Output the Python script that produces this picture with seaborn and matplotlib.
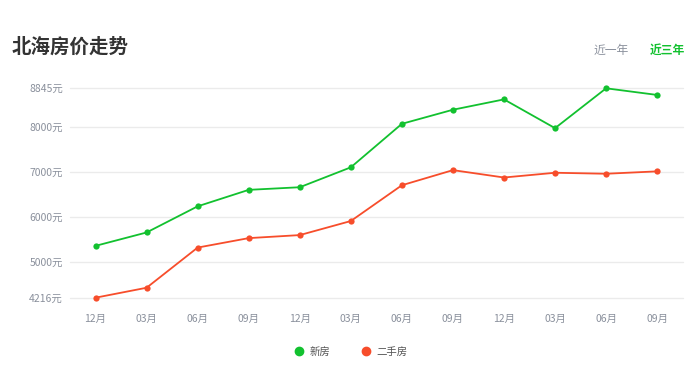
import matplotlib
matplotlib.use("Agg")
import matplotlib.pyplot as plt
from matplotlib.lines import Line2D
import seaborn as sns
import pandas as pd

# dados
meses = ["12月", "03月", "06月", "09月", "12月", "03月", "06月", "09月", "12月", "03月", "06月", "09月"]
novos = [5362, 5658, 6236, 6600, 6658, 7098, 8060, 8371, 8600, 7964, 8845, 8698]
usados = [4216, 4436, 5324, 5533, 5600, 5911, 6702, 7036, 6873, 6978, 6956, 7009]
y_ticks = [4216, 5000, 6000, 7000, 8000, 8845]

verde = "#12c12f"
vermelho = "#f74d2b"
cinza = "#8a909c"

sns.set_style("white")
plt.rcParams["font.family"] = ["Noto Sans CJK SC", "DejaVu Sans"]

tabela = pd.DataFrame({
    "pos": list(range(len(meses))) * 2,
    "preco": novos + usados,
    "tipo": ["新房"] * len(meses) + ["二手房"] * len(meses),
})

fig = plt.figure(figsize=(7, 3.73), dpi=100)
ax = fig.add_axes([70 / 700, 1 - 297.7 / 373, 612.7 / 700, (297.7 - 88.3) / 373])

sns.lineplot(data=tabela, x="pos", y="preco", hue="tipo", palette={"新房": verde, "二手房": vermelho},
             marker="o", markersize=4.5, markeredgewidth=0, linewidth=1.3, ax=ax, legend=False, clip_on=False)

ax.set_xlim(-0.5, len(meses) - 0.5)
ax.set_ylim(min(y_ticks), max(y_ticks))
ax.set_yticks(y_ticks)
ax.set_yticklabels([f"{v}元" for v in y_ticks])
ax.set_xticks(range(len(meses)))
ax.set_xticklabels(meses)
ax.tick_params(axis="both", length=0, labelsize=7.5, labelcolor=cinza)
ax.tick_params(axis="y", pad=5)
ax.tick_params(axis="x", pad=12)
ax.grid(axis="y", color="#ebebeb", linewidth=1)
for linha in ax.get_ygridlines():
    linha.set_clip_on(False)
ax.set_axisbelow(True)
for s in ax.spines.values():
    s.set_visible(False)
ax.set_xlabel("")
ax.set_ylabel("")

# titulo e botoes
fig.text(12 / 700, 1 - 47 / 373, "北海房价走势", fontsize=14, fontweight="bold", color="#333333", va="center")
fig.text(611 / 700, 1 - 50 / 373, "近一年", fontsize=8.5, color=cinza, va="center", ha="center")
fig.text(667 / 700, 1 - 50 / 373, "近三年", fontsize=8.5, color=verde, fontweight="bold", va="center", ha="center")

# legenda
handles = [Line2D([], [], linestyle="none", marker="o", markersize=6, color=verde),
           Line2D([], [], linestyle="none", marker="o", markersize=6, color=vermelho)]
fig.legend(handles, ["新房", "二手房"], loc="center", bbox_to_anchor=(348 / 700, 1 - 352 / 373), ncol=2,
           frameon=False, fontsize=7.5, handletextpad=0.0, columnspacing=2.4, labelcolor="#555555")

fig.savefig("out.png", dpi=100)
